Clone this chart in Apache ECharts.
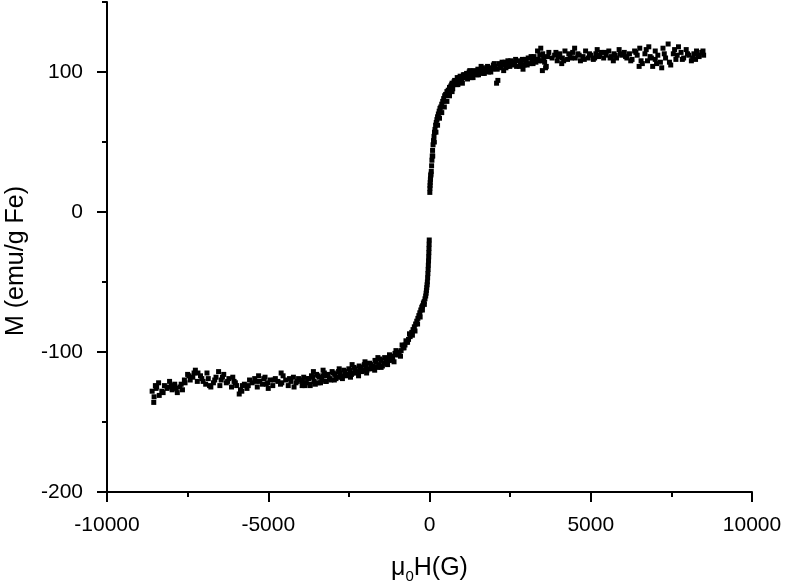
<!DOCTYPE html>
<html>
<head>
<meta charset="utf-8">
<script src="https://cdn.jsdelivr.net/npm/echarts@6/dist/echarts.min.js"></script>
<style>
  html, body { margin: 0; background: #fff; }
  #chart { width: 787px; height: 588px; }
</style>
</head>
<body>
<div id="chart"></div>
<script>
// upper branch (positive field)
const upperH = [
  10, 14, 18, 22, 27, 32, 38, 45,
  55, 65, 75, 85, 95, 110, 125, 140, 155, 170, 190, 210, 230, 250, 275, 300, 325, 350, 380, 410, 440, 470, 500, 540, 580, 620,
  100, 150, 200, 250, 310, 380, 460, 540, 620, 700,
  660, 700, 740, 780, 820, 860, 900, 950, 1000, 1050, 1100, 1150, 1200, 1260, 1320, 1380, 1440, 1500, 1560, 1620, 1680, 1740, 1800, 1860, 1920, 1980,
  720, 880, 1020, 1180, 1350, 1520, 1700, 1900, 2080, 2120, 1250, 1600,
  630, 690, 760, 840, 920, 980, 1080, 1130, 1230, 1290, 1410, 1470, 1540, 1650, 1770, 1830, 1960, 2010,
  2190, 2250, 2370, 2430, 2490, 2610, 2670, 2790, 2850, 2970, 3030, 3150, 3210, 3270, 3390, 3510, 3570, 3660,
  2040, 2100, 2160, 2220, 2280, 2340, 2400, 2460, 2520, 2580, 2640, 2700, 2760, 2820, 2880, 2940, 3000, 3060, 3120, 3180, 3240, 3300, 3360, 3420, 3480, 3540, 3600,
  3350, 3450, 3500, 3620, 3700, 3800, 2300, 2900,
  3880, 3960, 4040, 4120, 4200, 4280, 4360, 4440, 4520, 4600, 4680, 4760, 4840, 4920, 5000, 5080, 5160, 5240, 5320, 5400,
  5480, 5560, 5640, 5720, 5800, 5880, 5960, 6040, 6120, 6200, 6280, 6360, 6440, 6520, 6600, 6680, 6760, 6840, 6920, 7000,
  7080, 7160, 7240, 7320, 7400, 7480, 7560, 7640, 7720, 7800, 7880, 7960, 8040, 8120, 8200, 8280, 8360, 8440, 8500,
  4100, 4500, 5200, 5700, 6500, 6800, 7000, 7200, 7600, 8250,
  3920, 4000, 4160, 4320, 4400, 4640, 4800, 4960, 5120, 5280, 5440, 5600, 5760, 5920, 6080,
  6240, 6400, 6560, 6720, 6880, 7040, 7280, 7440, 7680, 7840, 8000, 8160, 8320, 8480
]
const upperM = [
  14, 17, 19, 21, 23, 24, 26, 27,
  29, 33, 37, 40, 44, 48, 51, 54, 57, 59, 62, 64, 66, 68, 70, 72, 74, 75, 77, 79, 81, 83, 84, 86, 87, 89,
  40, 50, 57, 62, 67, 71, 75, 79, 83, 86,
  90, 92, 91, 94, 93, 96, 94, 97, 95, 98, 97, 99, 97, 100, 98, 101, 99, 102, 100, 103, 101, 102, 104, 101, 103, 105,
  88, 91, 92, 95, 96, 98, 99, 100, 92, 94, 101, 104,
  86, 91, 93, 91, 96, 93, 98, 96, 100, 96, 100, 98, 101, 99, 103, 100, 102, 106,
  104, 107, 103, 108, 104, 106, 109, 104, 107, 109, 105, 111, 106, 109, 108, 113, 107, 111,
  104, 102, 106, 103, 105, 107, 104, 106, 108, 105, 107, 104, 108, 106, 109, 105, 107, 110, 106, 108, 111, 107, 109, 112, 108, 110, 103,
  115, 117, 101, 104, 114, 110, 101, 102,
  112, 108, 113, 110, 115, 109, 112, 114, 110, 113, 108, 111, 115, 110, 112, 109, 113, 111, 114, 110,
  112, 115, 111, 113, 110, 116, 112, 114, 110, 113, 109, 115, 112, 117, 106, 113, 108, 111, 104, 115,
  112, 107, 117, 110, 120, 105, 113, 109, 118, 114, 110, 116, 112, 108, 113, 115, 111, 114, 112,
  106, 117, 116, 108, 104, 118, 109, 103, 116, 109,
  114, 111, 108, 113, 110, 112, 109, 113, 110, 112, 114, 110, 112, 113, 111,
  108, 114, 108, 116, 110, 106, 113, 107, 112, 109, 113, 110, 112, 115
]

// lower branch (negative field)
const lowerH = [
  -8, -12, -16, -20, -25, -30, -36, -42, -50, -58, -66, -75, -85, -95, -105, -118,
  -140, -165, -190, -215, -240, -270, -300, -330, -360, -395, -430, -470, -510, -550, -600, -650, -700, -760, -820, -880,
  -160, -220, -290, -370, -450, -530,
  -940, -1000, -1070, -1140, -1210, -1280, -1350, -1420, -1500, -1580, -1660, -1740, -1820, -1900, -1980, -2060, -2140, -2220, -2300, -2380,
  -2460, -2540, -2620, -2700, -2780, -2860, -2940, -3020, -3100, -3180, -3260, -3340, -3420, -3500, -3580, -3660, -3740, -3820, -3900, -3980,
  -900, -1100, -1300, -1500, -1700, -1950, -2200, -2450, -2700, -2950, -3200, -3450, -3700, -3950, -1600, -2000, -2400, -2800, -3300, -3600,
  -620, -680, -730, -790, -850, -960, -1040, -1170, -1240, -1320, -1390, -1460, -1540, -1620, -1690, -1780, -1860, -1940, -2020, -2100, -2180,
  -2260, -2340, -2420, -2500, -2580, -2660, -2740, -2820, -2900, -2980, -3060, -3140, -3220, -3300, -3380, -3460, -3540, -3620, -3700, -3780, -3860, -3940,
  -4060, -4140, -4220, -4300, -4380, -4460, -4540, -4620, -4700, -4780, -4860, -4940, -5020, -5100, -5180, -5260, -5340, -5420, -5500, -5580,
  -5660, -5740, -5820, -5900, -5980, -6060, -6140, -6220, -6300, -6380, -6460, -6540, -6620, -6700, -6780, -6860, -6940, -7020, -7100, -7180,
  -7260, -7340, -7420, -7500, -7580, -7660, -7740, -7820, -7900, -7980, -8060, -8140, -8220, -8300, -8380, -8460, -8540, -8600,
  -4200, -4600, -5000, -5300, -5800, -6100, -6500, -6900, -7200, -7600, -8000, -8400, -8550, -8480,
  -4100, -4340, -4580, -4820, -5060, -5140, -5380, -5620, -5860, -6020, -6260, -6420, -6660, -6820, -7060, -7300, -7460, -7700, -7860, -8100, -8260, -8500
]
const lowerM = [
  -20, -23, -26, -29, -32, -35, -38, -41, -44, -47, -50, -52, -54, -56, -58, -60,
  -62, -64, -65, -67, -68, -70, -72, -74, -76, -78, -80, -82, -84, -86, -89, -91, -93, -95, -97, -99,
  -66, -70, -75, -80, -85, -88,
  -100, -102, -101, -104, -103, -106, -105, -108, -106, -109, -107, -110, -109, -112, -110, -113, -111, -114, -112, -115,
  -113, -116, -114, -117, -115, -118, -116, -114, -119, -117, -115, -120, -118, -116, -121, -117, -119, -122, -118, -120,
  -103, -107, -109, -111, -113, -115, -117, -118, -119, -120, -121, -122, -123, -124, -104, -107, -109, -112, -113, -114,
  -87, -93, -92, -97, -95, -102, -99, -106, -102, -108, -104, -110, -105, -111, -106, -112, -108, -113, -109, -114, -110,
  -115, -111, -116, -112, -117, -113, -118, -114, -119, -115, -120, -116, -121, -117, -122, -117, -123, -118, -124, -119, -124, -121,
  -119, -122, -118, -121, -124, -120, -117, -123, -121, -119, -124, -120, -122, -118, -123, -121, -125, -119, -122, -120,
  -126, -123, -128, -130, -124, -121, -125, -119, -122, -116, -120, -114, -118, -122, -125, -119, -123, -121, -117, -115,
  -113, -118, -120, -116, -122, -127, -125, -129, -123, -127, -121, -126, -124, -128, -131, -125, -132, -128,
  -125, -115, -126, -117, -124, -118, -124, -115, -121, -120, -124, -122, -136, -126,
  -121, -119, -122, -120, -123, -119, -121, -124, -127, -122, -121, -118, -120, -124, -119, -115, -117, -123, -126, -125, -129, -124
]

const yMajorTicks = [-200, -100, 0, 100]
const yMinorTicks = [-150, -50, 50, 150]

const font = 'Liberation Sans, Arial, Helvetica, sans-serif'
const toPoints = (hs, ms) => hs.map((h, i) => [h, ms[i]])

const chart = echarts.init(document.getElementById('chart'))
chart.setOption({
  animation: false,
  backgroundColor: '#fff',
  grid: { left: 107, right: 35, top: 2, bottom: 96, containLabel: false, outerBoundsMode: 'none' },
  xAxis: {
    type: 'value',
    min: -10000,
    max: 10000,
    interval: 5000,
    name: '{t|μ}{s|0}{t|H(G)}',
    nameLocation: 'middle',
    nameGap: 60,
    nameTextStyle: {
      rich: {
        t: { fontSize: 25, fontFamily: font, color: '#000', lineHeight: 32 },
        s: { fontSize: 15, fontFamily: font, color: '#000', lineHeight: 32, verticalAlign: 'bottom' }
      }
    },
    axisLine: { onZero: false, lineStyle: { color: '#000', width: 2 } },
    axisTick: { length: 10, lineStyle: { color: '#000', width: 2 } },
    minorTick: { show: true, splitNumber: 2, length: 5, lineStyle: { color: '#000', width: 2 } },
    axisLabel: { fontSize: 21, color: '#000', fontFamily: font, margin: 23, formatter: v => String(v) },
    splitLine: { show: false }
  },
  yAxis: [
    {
      type: 'value',
      min: -200,
      max: 150,
      interval: 100,
      name: 'M (emu/g Fe)',
      nameLocation: 'middle',
      nameGap: 78,
      nameTextStyle: { fontSize: 25, fontFamily: font, color: '#000', padding: [0, 28, 0, 0] },
      axisLine: { onZero: false, lineStyle: { color: '#000', width: 2 } },
      axisTick: { length: 10, customValues: yMajorTicks, lineStyle: { color: '#000', width: 2 } },
      axisLabel: { fontSize: 21, color: '#000', fontFamily: font, margin: 24, customValues: yMajorTicks },
      splitLine: { show: false }
    },
    {
      // only the short ticks between the labelled ones
      type: 'value',
      min: -200,
      max: 150,
      position: 'left',
      axisLine: { show: false, onZero: false },
      axisTick: { length: 5, customValues: yMinorTicks, lineStyle: { color: '#000', width: 2 } },
      axisLabel: { show: false },
      splitLine: { show: false }
    }
  ],
  series: [
    {
      type: 'scatter',
      data: toPoints(upperH, upperM),
      symbol: 'rect',
      symbolSize: 5,
      itemStyle: { color: '#000', opacity: 1 }
    },
    {
      type: 'scatter',
      data: toPoints(lowerH, lowerM),
      symbol: 'rect',
      symbolSize: 5,
      itemStyle: { color: '#000', opacity: 1 }
    }
  ]
})
</script>
</body>
</html>
